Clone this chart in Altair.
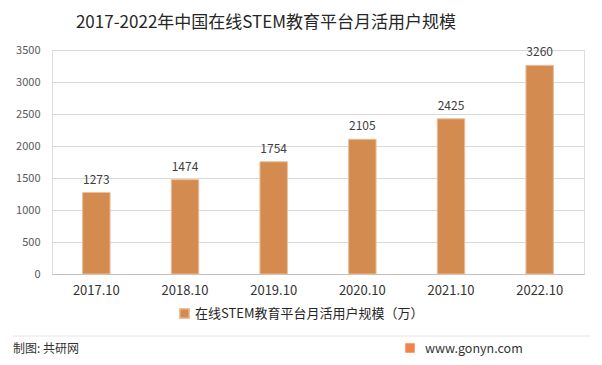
import altair as alt
import pandas as pd

years = ["2017.10", "2018.10", "2019.10", "2020.10", "2021.10", "2022.10"]
values = [1273, 1474, 1754, 2105, 2425, 3260]
y_ticks = [0, 500, 1000, 1500, 2000, 2500, 3000, 3500]
series_name = "在线STEM教育平台月活用户规模（万）"
title_text = "2017-2022年中国在线STEM教育平台月活用户规模"
footer_left = "制图: 共研网"
footer_right = "www.gonyn.com"

df = pd.DataFrame({"year": years, "value": values, "series": [series_name] * len(years)})

FONT = "Noto Sans CJK SC"
BAR = "#D48B4F"

x = alt.X("year:N", sort=years, title=None,
          scale=alt.Scale(paddingInner=0.69, paddingOuter=0.345),
          axis=alt.Axis(labelAngle=0, labelFontSize=13, labelColor="#333333", labelFont=FONT,
                        ticks=False, domainColor="#BFBFBF", labelPadding=10))
y = alt.Y("value:Q", title=None,
          scale=alt.Scale(domain=[0, 3500], nice=False),
          axis=alt.Axis(values=y_ticks, tickCount=8, format="d", labelOverlap=False,
                        labelFontSize=11, labelColor="#595959", labelFont=FONT,
                        ticks=False, domain=False, grid=True, gridColor="#D9D9D9", labelPadding=12))

base = alt.Chart(df)
bars = base.mark_bar(stroke="#EBC09C", strokeWidth=1).encode(
    x=x, y=y,
    color=alt.Color("series:N", scale=alt.Scale(range=[BAR]),
                    legend=alt.Legend(orient="none", legendX=126, legendY=257, title=None,
                                      symbolType="square", symbolSize=90, labelFontSize=13,
                                      labelFont=FONT, labelColor="#262626", labelLimit=400)),
)
labels = base.mark_text(baseline="bottom", dy=-6, fontSize=12, font=FONT, color="#404040").encode(
    x=alt.X("year:N", sort=years), y="value:Q", text="value:Q")

one = pd.DataFrame({"t": [0]})
title = alt.Chart(one).mark_text(fontSize=17, font=FONT, color="#262626", align="center",
                                 baseline="alphabetic").encode(
    x=alt.value(214), y=alt.value(-22), text=alt.value(title_text))
rule = alt.Chart(one).mark_rule(color="#E6E6E6", strokeWidth=1).encode(
    x=alt.value(-39), x2=alt.value(538), y=alt.value(286))
fl = alt.Chart(one).mark_text(fontSize=12, font=FONT, color="#333333", align="left", baseline="middle").encode(
    x=alt.value(-39), y=alt.value(299), text=alt.value(footer_left))
logo = alt.Chart(one).mark_square(color="#F3834A", opacity=1, size=90).encode(
    x=alt.value(358), y=alt.value(298))
fr = alt.Chart(one).mark_text(fontSize=12.5, font=FONT, color="#333333", align="left", baseline="middle").encode(
    x=alt.value(373), y=alt.value(299), text=alt.value(footer_right))

chart = alt.layer(bars, labels, title, rule, fl, logo, fr).properties(
    width=532, height=224,
    autosize=alt.AutoSizeParams(type="none"),
    padding={"left": 44, "top": 42, "right": 10, "bottom": 83},
).configure_view(stroke=None).configure(background="white")

chart.save("out.html", embed_options={"renderer": "svg", "actions": False})
